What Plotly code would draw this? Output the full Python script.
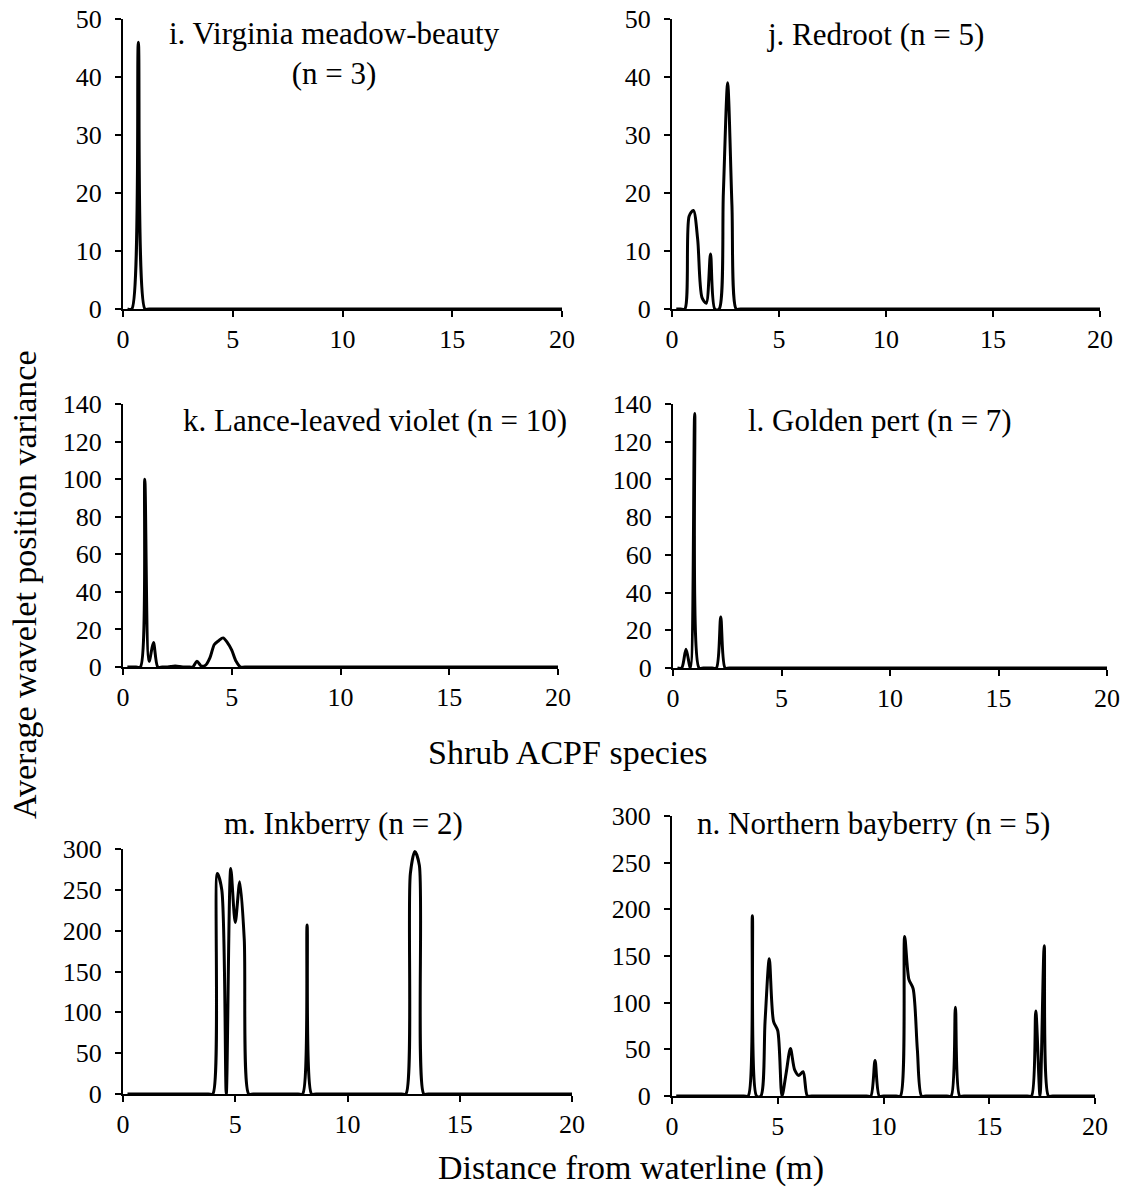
import plotly.graph_objects as go

W, H = 1144, 1195

# ---------------- data ----------------
x_i = [0.2, 0.4, 0.7, 1.0, 1.2, 20.0]
y_i = [0, 0, 46, 0, 0, 0]

x_j = [0.2, 0.4, 0.6, 0.8, 1.0, 1.2, 1.4, 1.6, 1.8, 2.0, 2.2, 2.4, 2.6, 2.8, 3.0, 3.2, 20.0]
y_j = [0, 0, 0, 16, 17, 12, 2, 1, 9.5, 0, 0, 20, 39, 18, 0, 0, 0]

x_k = [0.2, 0.4, 0.6, 0.8, 1.0, 1.2, 1.4, 1.6, 1.8, 2.0, 2.2, 2.4, 2.6, 2.8, 3.0, 3.2, 3.4,
       3.6, 3.8, 4.0, 4.2, 4.4, 4.6, 4.8, 5.0, 5.2, 5.4, 5.6, 20.0]
y_k = [0, 0, 0, 0, 100, 3, 13, 0, 0, 0, 0.3, 0.5, 0.3, 0, 0, 0, 3,
       0.5, 1, 5, 12, 14, 15.5, 13, 9, 3, 0, 0, 0]

x_l = [0.2, 0.4, 0.6, 0.8, 1.0, 1.2, 1.4, 1.6, 1.8, 2.0, 2.2, 2.4, 2.6, 20.0]
y_l = [0, 0, 10, 0, 135, 0, 0, 0, 0, 0, 27, 0, 0, 0]

x_m = [0.2, 3.8, 4.0, 4.2, 4.4, 4.6, 4.8, 5.0, 5.2, 5.4, 5.6, 5.8, 7.8, 8.0, 8.2, 8.4, 8.6,
       12.4, 12.6, 12.8, 13.0, 13.2, 13.4, 13.6, 20.0]
y_m = [0, 0, 0, 270, 250, 0, 276, 210, 260, 190, 0, 0, 0, 0, 207, 0, 0,
       0, 0, 270, 297, 280, 0, 0, 0]

x_n = [0.2, 3.4, 3.6, 3.8, 4.0, 4.2, 4.4, 4.6, 4.8, 5.0, 5.2, 5.4, 5.6, 5.8, 6.0, 6.2, 6.4, 6.6,
       9.2, 9.4, 9.6, 9.8, 10.0, 10.6, 10.8, 11.0, 11.2, 11.4, 11.6, 11.8, 12.0,
       13.0, 13.2, 13.4, 13.6, 13.8, 16.8, 17.0, 17.2, 17.4, 17.6, 17.8, 18.0, 20.0]
y_n = [0, 0, 0, 193, 0, 0, 80, 147, 80, 70, 0, 25, 51, 28, 22, 26, 0, 0,
       0, 0, 38, 0, 0, 0, 0, 171, 125, 115, 50, 0, 0,
       0, 0, 95, 0, 0, 0, 0, 91, 0, 161, 0, 0, 0]

panel_titles = ["i. Virginia meadow-beauty<br>(n = 3)", "j. Redroot (n = 5)",
                "k. Lance-leaved violet (n = 10)", "l. Golden pert (n = 7)",
                "m. Inkberry (n = 2)", "n. Northern bayberry (n = 5)"]
y_max = [50, 50, 140, 140, 300, 300]
y_step = [10, 10, 20, 20, 50, 50]
x_ticks = [0, 5, 10, 15, 20]

series = [(x_i, y_i), (x_j, y_j), (x_k, y_k), (x_l, y_l), (x_m, y_m), (x_n, y_n)]

# ---------------- layout (pixel boxes: left, right, top, bottom) ----------------
boxes = [(123, 562, 19, 309), (672, 1100, 19, 309),
         (123, 558, 404, 667), (673, 1107, 404, 668),
         (123, 572, 849, 1094), (672, 1095, 816, 1096)]
title_pos = [(334, 53), (875, 34), (375, 420), (880, 420), (343, 823), (873, 823)]

FONT = "Liberation Serif, Times New Roman, serif"

fig = go.Figure()
layout = dict(width=W, height=H, margin=dict(l=0, r=0, t=0, b=0, pad=0, autoexpand=False),
              template="none",
              plot_bgcolor="white", paper_bgcolor="white", showlegend=False,
              font=dict(family=FONT, color="black"))

for k, ((xs, ys), (l, r, t, b)) in enumerate(zip(series, boxes)):
    n = k + 1
    xa = "x" if n == 1 else f"x{n}"
    ya = "y" if n == 1 else f"y{n}"
    fig.add_trace(go.Scatter(x=xs, y=ys, mode="lines", xaxis=xa, yaxis=ya,
                             line=dict(color="black", width=3, shape="spline", smoothing=0.8),
                             hoverinfo="skip"))
    common = dict(showline=True, linecolor="black", linewidth=2, ticks="outside",
                  ticklen=6, tickwidth=2, tickcolor="black", showgrid=False,
                  zeroline=False, automargin=False,
                  tickfont=dict(family=FONT, size=26, color="black"))
    layout["xaxis" if n == 1 else f"xaxis{n}"] = dict(
        domain=[l / W, r / W], range=[0, 20], tickvals=x_ticks, anchor=ya, **common)
    layout["yaxis" if n == 1 else f"yaxis{n}"] = dict(
        domain=[1 - b / H, 1 - t / H], range=[0, y_max[k]], dtick=y_step[k], tick0=0,
        anchor=xa, ticklabelstandoff=8, **common)

annotations = []
for txt, (cx, cy) in zip(panel_titles, title_pos):
    annotations.append(dict(text=txt, x=cx / W, y=1 - cy / H, xref="paper", yref="paper",
                            xanchor="center", yanchor="middle", showarrow=False,
                            font=dict(family=FONT, size=31, color="black")))
annotations.append(dict(text="Average wavelet position variance", x=24 / W, y=1 - 585 / H,
                        xref="paper", yref="paper", textangle=-90, showarrow=False,
                        xanchor="center", yanchor="middle",
                        font=dict(family=FONT, size=34, color="black")))
annotations.append(dict(text="Shrub ACPF species", x=568 / W, y=1 - 752 / H,
                        xref="paper", yref="paper", showarrow=False,
                        xanchor="center", yanchor="middle",
                        font=dict(family=FONT, size=34, color="black")))
annotations.append(dict(text="Distance from waterline (m)", x=631 / W, y=1 - 1168 / H,
                        xref="paper", yref="paper", showarrow=False,
                        xanchor="center", yanchor="middle",
                        font=dict(family=FONT, size=34, color="black")))
layout["annotations"] = annotations

fig.update_layout(**layout)
fig.write_html("out.html")
